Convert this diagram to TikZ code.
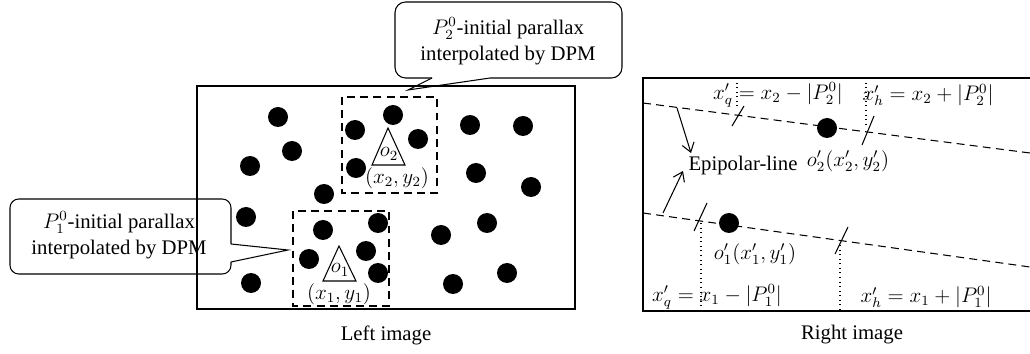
\documentclass[tikz,border=0pt]{standalone}
\usepackage{fontspec}
\setmainfont{Liberation Serif}
\usetikzlibrary{arrows.meta}

\begin{document}
\begin{tikzpicture}[x=0.02cm, y=-0.02cm,
    every node/.style={inner sep=0pt, font=\fontsize{11.8}{14.8}\selectfont},
    imgframe/.style={line width=0.8pt},
    window/.style={dash pattern=on 4.5pt off 3pt, line width=0.6pt},
    epiline/.style={dash pattern=on 4.5pt off 3pt, line width=0.6pt},
    bubble/.style={line width=0.6pt},
    slash/.style={line width=0.6pt},
    guide/.style={dotted, line width=0.6pt},
    epiarrow/.style={-{Straight Barb[length=5pt,width=7pt]}, line width=0.6pt}]
    \useasboundingbox (0,0) rectangle (1030,354);

    % left image
    \draw[imgframe] (197,86) rectangle (575,309);
    \foreach \p in {(278,117),(292,151),(250,166),(324,194),(355,130),(393,115),
                    (356,168),(418,139),(246,217),(323,230),(378,223),(366,251),
                    (309,259),(378,273),(251,283),(470,125),(523,126),(476,173),
                    (531,187),(487,223),(441,235),(507,273),(453,284)}
      \fill \p circle (10);
    \draw[window] (342,97) rectangle (437,193);
    \draw[window] (293,211) rectangle (389,306);
    \draw[line width=0.6pt] (388,128) -- (372,165) -- (405,165) -- cycle;
    \draw[line width=0.6pt] (339,246) -- (323,281) -- (356,281) -- cycle;
    \node (o2) at (389,154) {$o_2$};
    \node (p2) at (397,178) {$(x_2, y_2)$};
    \node (o1) at (340,270) {$o_1$};
    \node (p1) at (339,294) {$(x_1, y_1)$};

    % callouts
    \draw[bubble, rounded corners=6pt] (432,78) -- (395,78) -- (395,2)
      -- (622,2) -- (622,78) -- (490,78);
    \draw[bubble] (490,78) -- (408,90) -- (432,78);
    \node (call2) [align=center] at (508,41)
      {$P_2^0$-initial parallax\\interpolated by DPM};
    \draw[bubble, rounded corners=5pt] (231,244) -- (231,199) -- (10,199)
      -- (10,274) -- (231,274) -- (231,262);
    \draw[bubble] (231,262) -- (288,250) -- (231,244);
    \node (call1) [align=center] at (119,235)
      {$P_1^0$-initial parallax\\interpolated by DPM};
    \node (left) at (386,335) {Left image};

    % right image
    \draw[imgframe] (1030,78) -- (643,78) -- (643,311) -- (1030,311);
    \draw[epiline] (643,103) -- (1030,153);
    \draw[epiline] (643,213) -- (1030,267);
    \fill (827,128) circle (10);
    \fill (729,223) circle (10);
    \draw[slash] (732,126) -- (744,106);
    \draw[slash] (862,145) -- (874,116);
    \draw[slash] (694,231) -- (707,203);
    \draw[slash] (835,254) -- (848,227);
    \draw[guide] (737,78) -- (737,108);
    \draw[guide] (866,78) -- (866,127);
    \draw[guide] (701,223) -- (701,311);
    \draw[guide] (840,245) -- (840,311);
    \node (xq2) at (778,95) {$x'_q = x_2 - |P_2^0|$};
    \node (xh2) at (928,95) {$x'_h = x_2 + |P_2^0|$};
    \node (xq1) at (717,297) {$x'_q = x_1 - |P_1^0|$};
    \node (xh1) at (926,297) {$x'_h = x_1 + |P_1^0|$};
    \node (o2r) at (848,161) {$o'_2(x'_2, y'_2)$};
    \node (o1r) at (755,254) {$o'_1(x'_1, y'_1)$};
    \node (epi) at (743,166) {Epipolar-line};
    \coordinate (u1) at (677,108);
    \coordinate (u2) at (691,153);
    \coordinate (l1) at (663,213);
    \coordinate (l2) at (683,171);
    \draw[epiarrow] (u1) -- (u2);
    \draw[epiarrow] (l1) -- (l2);
    \node (right) at (852,335) {Right image};
\end{tikzpicture}
\end{document}
